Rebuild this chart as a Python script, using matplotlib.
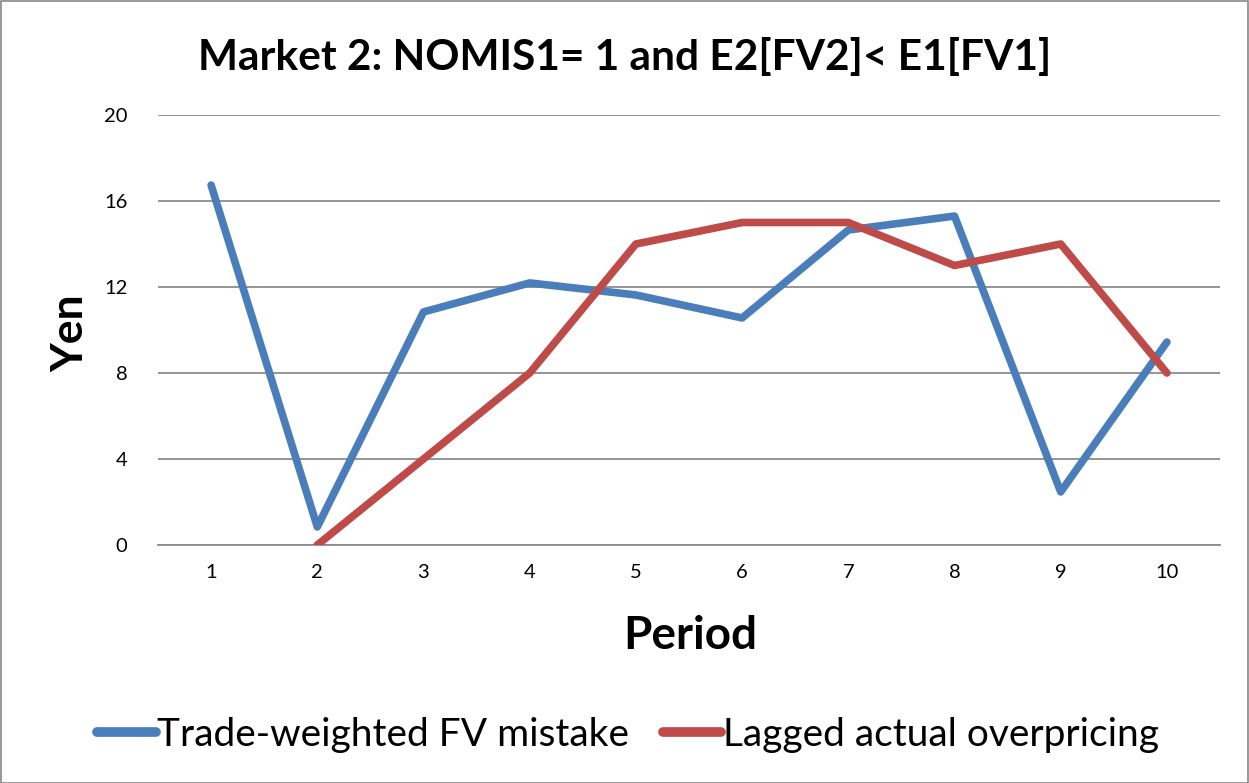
import matplotlib
matplotlib.use("Agg")
import matplotlib.pyplot as plt
from matplotlib.patches import Rectangle

periods = [1, 2, 3, 4, 5, 6, 7, 8, 9, 10]
fv_mistake = [16.74, 0.84, 10.84, 12.19, 11.63, 10.56, 14.65, 15.3, 2.47, 9.44]
lag_periods = [2, 3, 4, 5, 6, 7, 8, 9, 10]
lagged_overpricing = [0, 4, 8, 14, 15, 15, 13, 14, 8]
yticks = [0, 4, 8, 12, 16, 20]

plt.rcParams['font.family'] = ['Lato', 'DejaVu Sans']

W, H = 1249, 783
fig = plt.figure(figsize=(W/100, H/100), dpi=100)
fig.patches.append(Rectangle((0.5/W, 0.5/H), 1-1.5/W, 1-1.5/H, transform=fig.transFigure,
                             fill=False, edgecolor='#888888', linewidth=1.2))
ax = fig.add_axes([158/W, 1-545/H, (1220-158)/W, (545-115)/H])

ax.plot(periods, fv_mistake, color='#4a7ebb', linewidth=5.5, solid_capstyle='round',
        solid_joinstyle='round', label='Trade-weighted FV mistake', zorder=3)
ax.plot(lag_periods, lagged_overpricing, color='#be4b48', linewidth=5.5, solid_capstyle='round',
        solid_joinstyle='round', label='Lagged actual overpricing', zorder=3)

ax.set_xlim(0.5, 10.5)
ax.set_ylim(0, 20)
ax.set_yticks(yticks)
ax.set_xticks(periods)
ax.set_xticklabels([str(p) for p in periods], fontsize=14.5)
ax.set_yticklabels([str(t) for t in yticks], fontsize=14.5)
ax.grid(axis='y', color='#8c8c8c', linewidth=1.3)
ax.set_axisbelow(True)
for s in ['top', 'right', 'left']:
    ax.spines[s].set_visible(False)
ax.spines['bottom'].set_color('#8c8c8c')
ax.spines['bottom'].set_linewidth(1.3)
ax.tick_params(axis='both', length=0, pad=14)
ax.tick_params(axis='y', pad=22)

fig.text(625/W, 1-58/H, 'Market 2: NOMIS1= 1 and E2[FV2]< E1[FV1]',
         ha='center', va='center', fontsize=30.5, fontweight='bold')
fig.text(690/W, 1-636/H, 'Period', ha='center', va='center', fontsize=33, fontweight='bold')
fig.text(70/W, 1-333/H, 'Yen', ha='center', va='center', fontsize=32, fontweight='bold', rotation=90)

leg = fig.legend(loc='center', bbox_to_anchor=(628/W, 1-735/H), ncol=2, frameon=False,
                 fontsize=28, handlelength=1.5, handletextpad=0.05, columnspacing=0.85)
for line in leg.get_lines():
    line.set_linewidth(7)

fig.savefig('out.png', dpi=100)
